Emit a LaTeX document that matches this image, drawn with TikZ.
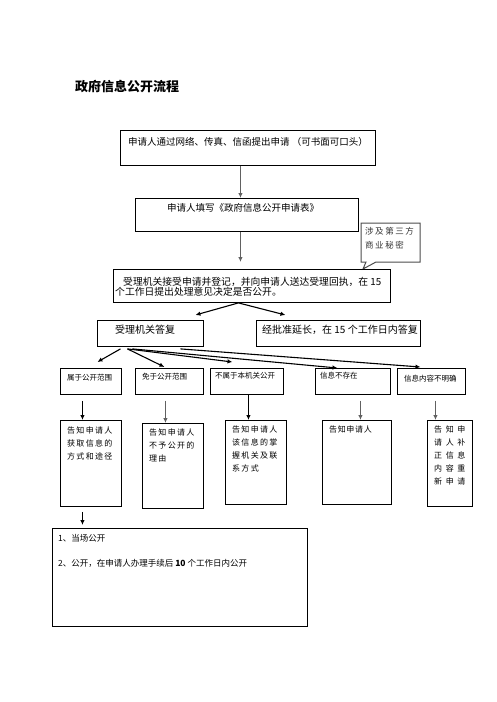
\documentclass[tikz,border=0pt]{standalone}
\usepackage{fontspec}
\setmainfont{Noto Sans CJK SC}
\usetikzlibrary{arrows.meta,shapes.callouts}
\newcommand\wide[1]{\addfontfeature{LetterSpace=#1}}

\begin{document}
\begin{tikzpicture}[x=1pt,y=-1pt,
        box/.style={draw,line width=0.9pt,anchor=north west,inner sep=0pt},
        txt/.style={anchor=west,inner sep=0pt,font=\fontsize{10}{11}\selectfont},
        cattxt/.style={anchor=west,inner sep=0pt,font=\fontsize{7.5}{9}\selectfont},
        tell/.style={anchor=north west,inner sep=0pt,align=left,font=\fontsize{8}{13}\selectfont},
        arr/.style={-{Latex[length=5pt,width=4.5pt]},line width=1.1pt},
        garr/.style={arr,draw=black!62,fill=black!62}]
        \useasboundingbox (0,0) rectangle (496,702);

        \node[anchor=west,inner sep=0pt,font=\fontsize{13}{15}\selectfont\bfseries] (title) at (75,87) {政府信息公开流程};

        \node[box,minimum width=255pt,minimum height=35pt] (apply) at (120,130) {};
        \node[txt,font=\fontsize{9.5}{11}\selectfont] (apply-t) at (128,142) {申请人通过网络、传真、信函提出申请 （可书面可口头）};
        \node[box,minimum width=223pt,minimum height=33pt] (form) at (135,198) {};
        \node[txt,font=\fontsize{9.5}{11}\selectfont] (form-t) at (167,208) {申请人填写《政府信息公开申请表》};
        \node[rectangle callout,draw=black!70,line width=1pt,minimum width=59pt,minimum height=39pt,
            callout absolute pointer={(363,269)},callout pointer width=10pt] (secret) at (390.5,242.5) {};
        \node[tell,font=\fontsize{8.5}{14}\selectfont\wide{18},text=black!80] (secret-t) at (365,227.5) {涉及第三方\\商业秘密};
        \node[box,minimum width=277pt,minimum height=33pt] (accept) at (113,269) {};
        \node[tell,font=\fontsize{9.8}{10.5}\selectfont] (accept-t) at (115,277) {\hspace*{8pt}受理机关接受申请并登记，并向申请人送达受理回执，在 15\\个工作日提出处理意见决定是否公开。};

        \node[box,minimum width=106pt,minimum height=26pt] (reply) at (97,320) {};
        \node[txt] (reply-t) at (115,330) {受理机关答复};
        \node[box,minimum width=164pt,minimum height=26pt] (extend) at (256,320) {};
        \node[txt] (extend-t) at (262,330) {经批准延长，在 15 个工作日内答复};

        \node[box,minimum width=61pt,minimum height=26pt] (cat1) at (60,368) {};
        \node[cattxt] (cat1-t) at (67,378) {属于公开范围};
        \node[box,minimum width=68pt,minimum height=26pt] (cat2) at (135,368) {};
        \node[cattxt] (cat2-t) at (142,377) {免于公开范围};
        \node[box,minimum width=73pt,minimum height=26pt] (cat3) at (210,368) {};
        \node[cattxt] (cat3-t) at (215,376) {不属于本机关公开};
        \node[box,minimum width=75pt,minimum height=26pt] (cat4) at (315,368) {};
        \node[cattxt] (cat4-t) at (320,376) {信息不存在};
        \node[box,minimum width=68pt,minimum height=26pt] (cat5) at (397,368) {};
        \node[cattxt] (cat5-t) at (404,379) {信息内容不明确};

        \node[box,minimum width=61pt,minimum height=86pt] (info1) at (60,420) {};
        \node[tell,font=\fontsize{8}{13}\selectfont\wide{16}] (info1-t) at (67,427) {告知申请人\\获取信息的\\方式和途径};
        \node[box,minimum width=61pt,minimum height=85pt] (info2) at (142,423) {};
        \node[tell,font=\fontsize{8}{13}\selectfont\wide{16}] (info2-t) at (149,429) {告知申请人\\不予公开的\\理由};
        \node[box,minimum width=61pt,minimum height=84pt] (info3) at (225,420) {};
        \node[tell,font=\fontsize{8}{13}\selectfont\wide{16}] (info3-t) at (232,426) {告知申请人\\该信息的掌\\握机关及联\\系方式};
        \node[box,minimum width=69pt,minimum height=84pt] (info4) at (322,420) {};
        \node[tell,font=\fontsize{8}{13}\selectfont\wide{8}] (info4-t) at (329,426) {告知申请人};
        \node[box,minimum width=45pt,minimum height=86pt] (info5) at (427,420) {};
        \node[tell,font=\fontsize{8}{13}\selectfont\wide{45}] (info5-t) at (434,426) {告知申\\请人补\\正信息\\内容重\\新申请};

        \node[box,minimum width=255pt,minimum height=98pt] (open) at (52,528) {};
        \node[txt,font=\fontsize{8.5}{10}\selectfont] (open1) at (58,538) {1、当场公开};
        \node[txt,font=\fontsize{8.5}{10}\selectfont] (open2) at (58,563) {2、公开，在申请人办理手续后 {\bfseries 10} 个工作日内公开};

        \draw[garr] ([xshift=-7.5pt]apply.south) -- ([xshift=-6.5pt]form.north);
        \draw[garr] ([xshift=-6.5pt]form.south) -- ([xshift=-11.5pt,yshift=7pt]accept.north);
        \draw[arr] ([xshift=-13.5pt]accept.south) -- ([xshift=45pt,yshift=5pt]reply.north);
        \draw[arr] ([xshift=-13.5pt]accept.south) -- ([xshift=-53pt,yshift=5pt]extend.north);

        \draw[arr] ([xshift=-30pt,yshift=-2pt]reply.south) -- ([xshift=6.5pt,yshift=6pt]cat1.north);
        \draw[arr] ([xshift=-23pt,yshift=-2pt]reply.south) -- ([xshift=-5pt,yshift=1pt]cat2.north);
        \draw[arr] ([xshift=-23pt,yshift=-2pt]reply.south) -- ([xshift=-14.5pt,yshift=6pt]cat3.north);
        \draw[arr] ([xshift=-18pt,yshift=-2pt]reply.south) -- ([xshift=-15.5pt]cat4.north);
        \draw[arr] ([xshift=30pt,yshift=-2pt]reply.south) -- ([xshift=-11pt,yshift=1pt]cat5.north);

        \draw[arr] ([xshift=-8.5pt,yshift=-6pt]cat1.south) -- ([xshift=-8.5pt]info1.north);
        \draw[garr] ([xshift=-4pt,yshift=-6pt]cat2.south) -- ([xshift=-7.5pt]info2.north);
        \draw[arr] ([xshift=1.5pt]cat3.south) -- ([xshift=-7.5pt]info3.north);
        \draw[garr] ([xshift=7.5pt,yshift=-6pt]cat4.south) -- ([xshift=3.5pt]info4.north);
        \draw[garr] ([xshift=4pt,yshift=-6pt]cat5.south) -- ([xshift=-14.5pt]info5.north);
        \draw[arr] ([xshift=-8.5pt,yshift=-5pt]info1.south) -- ([xshift=-97.5pt,yshift=3pt]open.north);
    \end{tikzpicture}
\end{document}
